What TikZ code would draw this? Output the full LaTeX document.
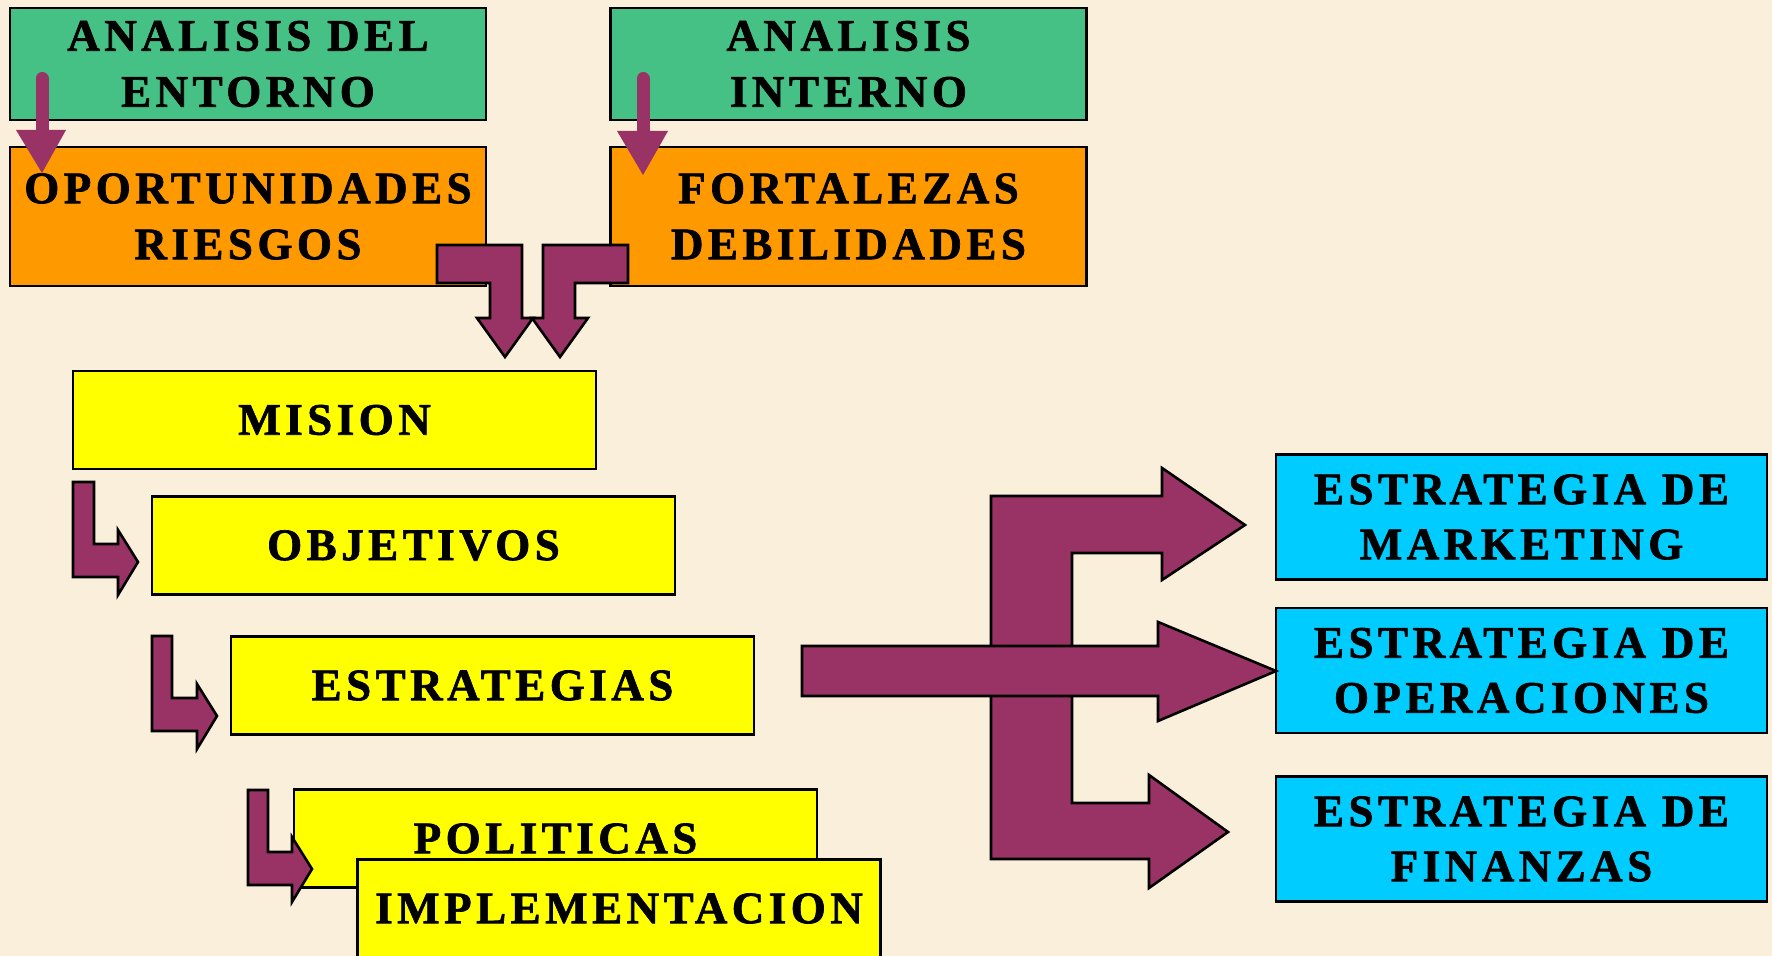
\documentclass[tikz,border=0pt]{standalone}
\usepackage{fontspec}
\setmainfont{Liberation Serif}[LetterSpace=10, BoldFeatures={FakeBold=1.5}]
\usepackage{tikz}
\usetikzlibrary{positioning}

\definecolor{paper}{RGB}{250,239,218}
\definecolor{envgreen}{RGB}{69,193,133}
\definecolor{swotorange}{RGB}{255,153,0}
\definecolor{planyellow}{RGB}{255,255,0}
\definecolor{areacyan}{RGB}{0,204,255}
\definecolor{maroon}{RGB}{153,51,102}

\begin{document}
\begin{tikzpicture}[x=0.5pt, y=-0.5pt]
		\tikzstyle{Box}		= [draw, line width=1.4pt, inner sep=0pt, align=center, font=\bfseries\fontsize{22.5pt}{28pt}\selectfont]
		\tikzstyle{Green}	= [fill=envgreen, minimum width=238pt, minimum height=56pt]
		\tikzstyle{Orange}	= [fill=swotorange, minimum width=238pt, minimum height=69.5pt]
		\tikzstyle{Step}	= [fill=planyellow, minimum width=261.5pt, minimum height=49pt]
		\tikzstyle{Area}	= [fill=areacyan, minimum width=245.5pt, minimum height=62.5pt, font=\bfseries\fontsize{22.5pt}{27.5pt}\selectfont]
		\tikzstyle{Block}	= [fill=maroon, draw=black, line width=1.3pt, line join=miter]
		\tikzstyle{Thin}	= [maroon, line width=6.5pt, line cap=round]

		\useasboundingbox (0,0) rectangle (1772,956);
		\fill[paper] (0,0) rectangle (1772,956);

		\node (ent) at (248, 64) [Box][Green] {ANALISIS DEL\\ENTORNO};
		\node (int) at (848.5, 64) [Box][Green] {ANALISIS\\INTERNO};
		\node (opo) at (248, 216.5) [Box][Orange] {OPORTUNIDADES\\RIESGOS};
		\node (fort) at (848.5, 216.5) [Box][Orange] {FORTALEZAS\\DEBILIDADES};

		\draw (42, 78.5) -- (42, 131) [Thin];
		\fill[maroon] (16, 130) -- (66, 130) -- (42, 173) -- cycle;
		\draw (643, 78.5) -- (643, 131) [Thin];
		\fill[maroon] (617, 131) -- (668, 131) -- (643, 175) -- cycle;

		\draw [Block] (437,245) -- (522,245) -- (522,318) -- (533,318) -- (505,357) -- (477,318) -- (490,318) -- (490,283) -- (437,283) -- cycle;
		\draw [Block] (628,245) -- (543,245) -- (543,318) -- (532,318) -- (560,357) -- (588,318) -- (575,318) -- (575,283) -- (628,283) -- cycle;

		\node (mis) at (334.5, 420) [Box][Step] {MISION};
		\node (obj) at (413.5, 545.5) [Box][Step] {OBJETIVOS};
		\node (est) at (492.5, 685.5) [Box][Step] {ESTRATEGIAS};
		\node (pol) at (555.5, 838.5) [Box][Step] {POLITICAS};
		\node (imp) at (619, 908.5) [Box][Step] {IMPLEMENTACION};

		\draw [Block] (73,482) -- (94,482) -- (94,544) -- (118,544) -- (118,530) -- (138,562) -- (118,595) -- (118,577) -- (73,577) -- cycle;
		\draw [Block] (152,636) -- (172,636) -- (172,698) -- (197,698) -- (197,684) -- (217,716) -- (197,749) -- (197,731) -- (152,731) -- cycle;
		\draw [Block] (248,790) -- (268,790) -- (268,852) -- (292,852) -- (292,837) -- (312,869) -- (292,902) -- (292,885) -- (248,885) -- cycle;

		\node (mkt) at (1521.5, 517) [Box][Area] {ESTRATEGIA DE\\MARKETING};
		\node (ope) at (1521.5, 670.5) [Box][Area] {ESTRATEGIA DE\\OPERACIONES};
		\node (fin) at (1521.5, 839) [Box][Area] {ESTRATEGIA DE\\FINANZAS};

		\draw [Block] (991,496) -- (1162,496) -- (1162,468) -- (1245,525) -- (1162,580) -- (1162,553) -- (1072,553) -- (1072,803) -- (1149,803) -- (1149,775) -- (1228,832) -- (1149,888) -- (1149,859) -- (991,859) -- cycle;
		\draw [Block] (802,646) -- (1158,646) -- (1158,622) -- (1276,671) -- (1158,721) -- (1158,696) -- (802,696) -- cycle;
	\end{tikzpicture}
\end{document}
